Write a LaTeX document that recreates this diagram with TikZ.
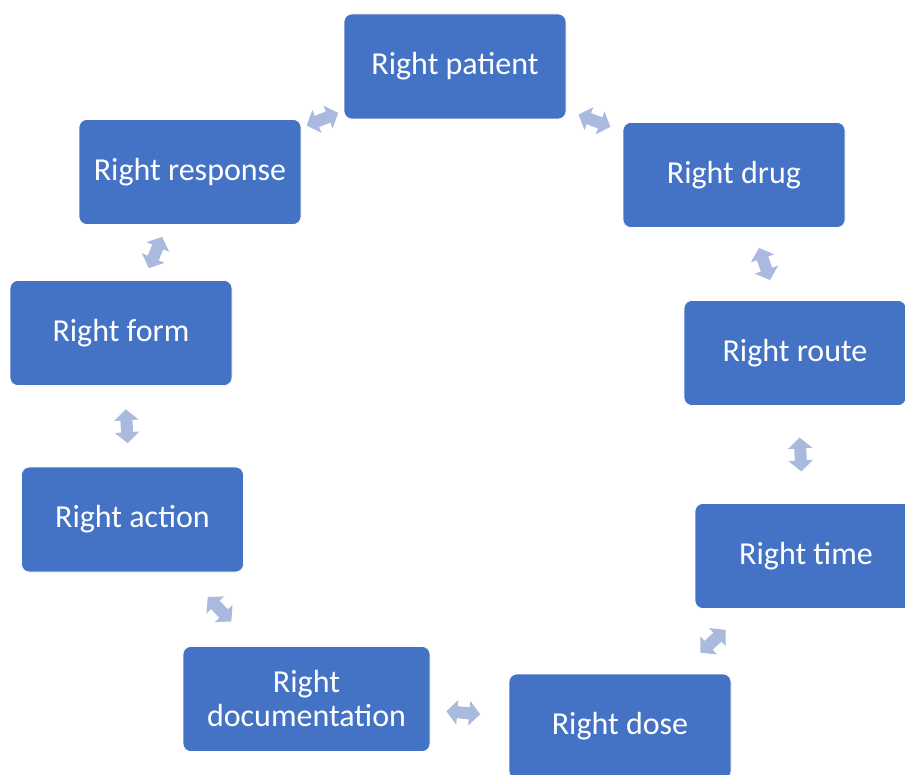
\documentclass[tikz,border=0pt]{standalone}
\usepackage{fontspec}
\setmainfont{Carlito}
\usetikzlibrary{arrows.meta,calc}
\definecolor{boxblue}{RGB}{68,114,196}
\definecolor{arrowblue}{RGB}{170,185,222}

\begin{document}
\begin{tikzpicture}[
	x=1pt, y=-1pt,
	rbox/.style={draw=white, line width=0.6pt, fill=boxblue, rounded corners=8pt,
		minimum width=222pt, minimum height=105pt, inner sep=0pt,
		text=white, align=center, font=\fontsize{32}{34}\selectfont},
	arrow/.style={draw=arrowblue, line width=12pt,
		{Triangle[length=11pt,width=24pt]}-{Triangle[length=11pt,width=24pt]}}
]
\clip (0,0) rectangle (905,775);
\useasboundingbox (0,0) rectangle (905,775);

% the nine rights, clockwise from the top
\node[rbox] (patient) at (455,66.5) {Right patient};
\node[rbox] (drug) at (734,175) {Right drug};
\node[rbox] (route) at (795,353) {Right route};
\node[rbox] (time) at (806,556) {Right time};
\node[rbox] (dose) at (620,726.5) {Right dose};
\node[rbox, minimum width=247pt] (docu) at (306.5,699) {Right\\documentation};
\node[rbox] (action) at (132.5,519.5) {Right action};
\node[rbox] (form) at (121,333) {Right form};
\node[rbox] (response) at (190,172) {Right response};

% short two-way arrows half way between the boxes
\draw[arrow] ($(patient)!.5!(drug)!17pt!(patient)$) -- ($(patient)!.5!(drug)!17pt!(drug)$);
\draw[arrow] ($(drug)!.5!(route)!17pt!(drug)$) -- ($(drug)!.5!(route)!17pt!(route)$);
\draw[arrow] ($(route)!.5!(time)!17pt!(route)$) -- ($(route)!.5!(time)!17pt!(time)$);
\draw[arrow] ($(time)!.5!(dose)!17pt!(time)$) -- ($(time)!.5!(dose)!17pt!(dose)$);
\draw[arrow] ($(dose)!.5!(docu)!17pt!(dose)$) -- ($(dose)!.5!(docu)!17pt!(docu)$);
\draw[arrow] ($(docu)!.5!(action)!17pt!(docu)$) -- ($(docu)!.5!(action)!17pt!(action)$);
\draw[arrow] ($(action)!.5!(form)!17pt!(action)$) -- ($(action)!.5!(form)!17pt!(form)$);
\draw[arrow] ($(form)!.5!(response)!17pt!(form)$) -- ($(form)!.5!(response)!17pt!(response)$);
\draw[arrow] ($(response)!.5!(patient)!17pt!(response)$) -- ($(response)!.5!(patient)!17pt!(patient)$);
\end{tikzpicture}
\end{document}
